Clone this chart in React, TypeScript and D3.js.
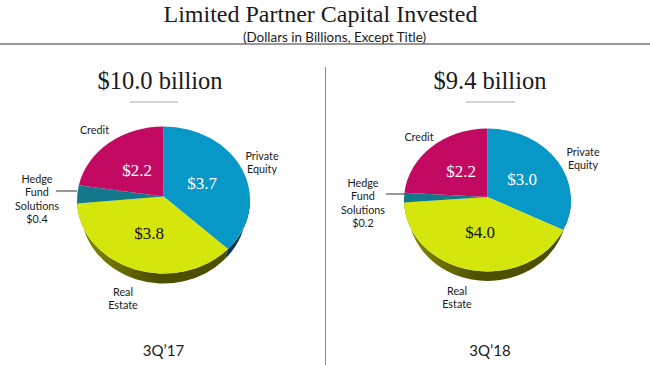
import React from "react";
import * as d3 from "d3";

const categories = ["Private Equity", "Real Estate", "Hedge Fund Solutions", "Credit"];
const colors = ["#0798c8", "#d5e60c", "#13788c", "#c20a62"];
const wallColors = [["#0a5f80", "#06374e"], ["#8a8f00", "#4c4f00"], ["#0a4a58", "#0a4a58"], ["#700538", "#700538"]];
const values2017 = [3.7, 3.8, 0.4, 2.2];
const values2018 = [3.0, 4.0, 0.2, 2.2];
const periods = ["3Q\u201917", "3Q\u201918"];
const totals = ["$10.0 billion", "$9.4 billion"];
const hedgeLabels = ["$0.4", "$0.2"];

const SERIF = "'Liberation Serif', serif";
const SANS = "Lato, 'Open Sans', sans-serif";

type Layout = {
  id: string; cx: number; cy: number; ax: number; ay: number; rx: number; ry: number; depth: number;
  valuePos: [number, number][];
  head: [number, number]; rule: [number, number, number];
  credit: [number, number]; pe: [number, number]; hedge: [number, number]; leader: [number, number, number];
  re: [number, number]; period: [number, number];
};

const layouts: Layout[] = [
  { id: "a", cx: 163.5, cy: 200, ax: 163.5, ay: 196.5, rx: 86.5, ry: 73.5, depth: 10,
    valuePos: [[202, 189], [149, 239], [0, 0], [137, 176]],
    head: [160, 89], rule: [130, 178, 102],
    credit: [94.5, 134], pe: [262, 160], hedge: [37, 183], leader: [56, 77, 191],
    re: [123, 296], period: [163.5, 356] },
  { id: "b", cx: 487.5, cy: 200, ax: 487.5, ay: 197, rx: 83.5, ry: 71.5, depth: 9.5,
    valuePos: [[522, 185], [480, 238], [0, 0], [461, 177]],
    head: [490, 89], rule: [466, 515, 102],
    credit: [419, 141], pe: [583, 156], hedge: [363, 187], leader: [386, 405, 194],
    re: [457, 295], period: [490, 356] },
];

function Pie({ values, l, idx }: { values: number[]; l: Layout; idx: number }) {
  const arcs = d3.pie<number>().sort(null)(values);
  const pt = (a: number): [number, number] => [l.cx + l.rx * Math.sin(a), l.cy - l.ry * Math.cos(a)];
  const lowRx = l.rx - 4;
  const lowPt = (a: number): [number, number] => [l.cx + lowRx * Math.sin(a), l.cy + l.depth - l.ry * Math.cos(a)];
  const slice = (s: number, e: number) => {
    const [x0, y0] = pt(s);
    const [x1, y1] = pt(e);
    return `M${l.ax},${l.ay}L${x0},${y0}A${l.rx},${l.ry} 0 ${e - s > Math.PI ? 1 : 0} 1 ${x1},${y1}Z`;
  };
  const wall = (s: number, e: number) => {
    const a0 = Math.max(s, Math.PI / 2), a1 = Math.min(e, 1.5 * Math.PI);
    if (a1 <= a0) return null;
    const [x0, y0] = pt(a0);
    const [x1, y1] = pt(a1);
    const [x2, y2] = lowPt(a1);
    const [x3, y3] = lowPt(a0);
    return `M${x0},${y0}A${l.rx},${l.ry} 0 0 1 ${x1},${y1}L${x2},${y2}A${lowRx},${l.ry} 0 0 0 ${x3},${y3}Z`;
  };
  const lbl = { fontFamily: SANS, fontSize: 10.8, fill: "#1a1a1a", textAnchor: "middle" as const };
  const lh = 13.3;
  const [peA, peB] = categories[0].split(" ");
  const [reA, reB] = categories[1].split(" ");
  const hedgeLines = [...categories[2].split(" "), hedgeLabels[idx]];
  return (
    <g>
      <defs>
        {wallColors.map((c, i) => (
          <linearGradient key={i} id={`w${l.id}${i}`} gradientUnits="userSpaceOnUse" x1={l.cx - l.rx} x2={l.cx + l.rx} y1="0" y2="0">
            <stop offset="0" stopColor={c[0]} />
            <stop offset="0.45" stopColor={c[1]} />
            <stop offset="1" stopColor={c[1]} />
          </linearGradient>
        ))}
      </defs>
      {arcs.map((a, i) => {
        const d = wall(a.startAngle, a.endAngle);
        return d ? <path key={i} d={d} fill={`url(#w${l.id}${i})`} /> : null;
      })}
      {arcs.map((a, i) => (
        <path key={i} d={slice(a.startAngle, a.endAngle)} fill={colors[i]} />
      ))}
      {arcs.map((a, i) =>
        i === 2 ? null : (
          <text key={i} x={l.valuePos[i][0]} y={l.valuePos[i][1]} fontFamily={SERIF} fontSize={17} textAnchor="middle"
            fill={i === 1 ? "#111" : "#fff"}>
            ${values[i].toFixed(1)}
          </text>
        )
      )}
      <text x={l.head[0]} y={l.head[1]} fontFamily={SERIF} fontSize={24.5} textAnchor="middle" fill="#1a1a1a">{totals[idx]}</text>
      <line x1={l.rule[0]} x2={l.rule[1]} y1={l.rule[2]} y2={l.rule[2]} stroke="#a6a6a6" strokeWidth={1.2} />
      <text x={l.credit[0]} y={l.credit[1]} {...lbl}>{categories[3]}</text>
      <text x={l.pe[0]} y={l.pe[1]} {...lbl}>{peA}</text>
      <text x={l.pe[0]} y={l.pe[1] + lh} {...lbl}>{peB}</text>
      {hedgeLines.map((t, i) => (
        <text key={i} x={l.hedge[0]} y={l.hedge[1] + i * lh} {...lbl}>{t}</text>
      ))}
      <line x1={l.leader[0]} x2={l.leader[1]} y1={l.leader[2]} y2={l.leader[2]} stroke="#333" strokeWidth={1} />
      <text x={l.re[0]} y={l.re[1]} {...lbl}>{reA}</text>
      <text x={l.re[0]} y={l.re[1] + lh} {...lbl}>{reB}</text>
      <text x={l.period[0]} y={l.period[1]} fontFamily={SANS} fontSize={15} textAnchor="middle" fill="#1a1a1a">{periods[idx]}</text>
    </g>
  );
}

export default function App() {
  return (
    <svg width={650} height={365} viewBox="0 0 650 365"
      style={{ position: "fixed", left: 0, top: 0, display: "block", background: "#fff" }}>
      <text x={320.5} y={21.5} fontFamily={SERIF} fontSize={24} textAnchor="middle" fill="#1a1a1a">Limited Partner Capital Invested</text>
      <text x={334.5} y={41.5} fontFamily={SANS} fontSize={13.4} textAnchor="middle" fill="#1a1a1a">(Dollars in Billions, Except Title)</text>
      <line x1={0} x2={650} y1={44} y2={44} stroke="#333" strokeWidth={1} />
      <line x1={325.5} x2={325.5} y1={67} y2={365} stroke="#8c8c8c" strokeWidth={1} />
      <Pie values={values2017} l={layouts[0]} idx={0} />
      <Pie values={values2018} l={layouts[1]} idx={1} />
    </svg>
  );
}
